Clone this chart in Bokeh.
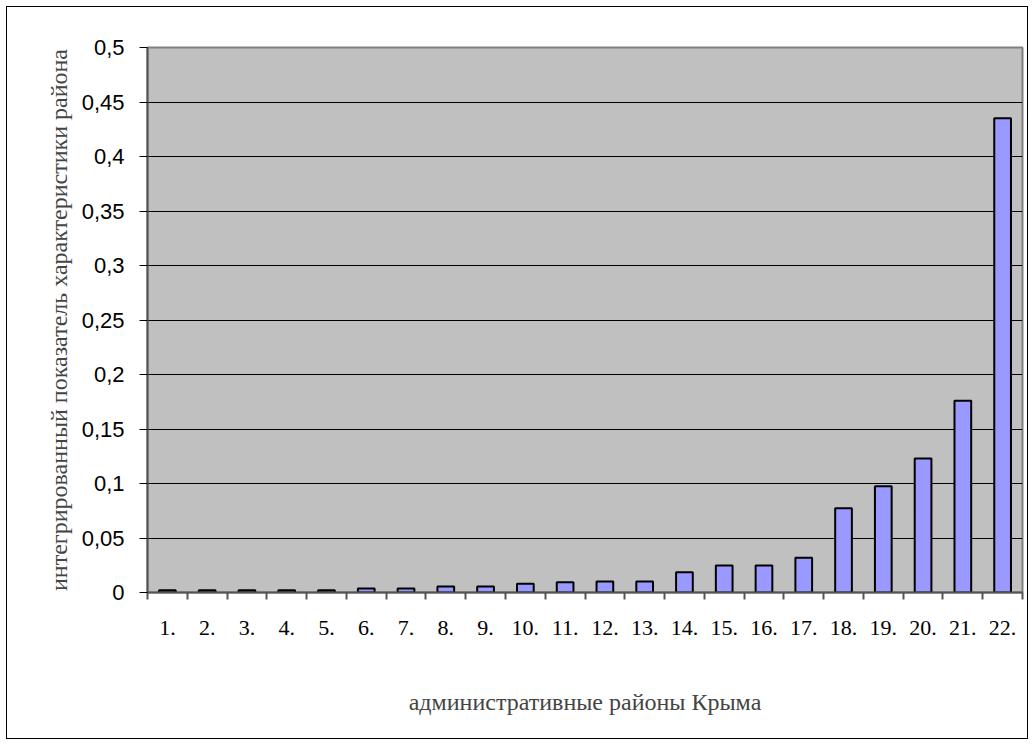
from bokeh.plotting import figure
from bokeh.models import FixedTicker, Range1d
from bokeh.embed import file_html
from bokeh.resources import INLINE

districts = [f"{i}." for i in range(1, 23)]
values = [0.002, 0.002, 0.002, 0.002, 0.002, 0.0037, 0.0037, 0.0055, 0.0055, 0.008,
          0.0095, 0.0100, 0.0100, 0.0186, 0.0248, 0.0248, 0.0318, 0.0773, 0.0975, 0.123,
          0.176, 0.435]
y_ticks = [0, 0.05, 0.1, 0.15, 0.2, 0.25, 0.3, 0.35, 0.4, 0.45, 0.5]
y_labels = ["0", "0,05", "0,1", "0,15", "0,2", "0,25", "0,3", "0,35", "0,4", "0,45", "0,5"]
x_title = "административные районы Крыма"
y_title = "интегрированный показатель характеристики района"

xs = list(range(1, len(districts) + 1))

p = figure(width=1022, height=733, output_backend="svg", toolbar_location=None,
           x_range=Range1d(0.5, len(districts) + 0.5), y_range=Range1d(0, 0.5),
           min_border_left=140, min_border_top=40, min_border_right=7, min_border_bottom=148)
p.styles = {"margin-left": "6px", "margin-top": "6px", "border": "1px solid black"}
p.outline_line_color = "#808080"
p.outline_line_width = 2
p.border_fill_color = "white"
p.background_fill_color = "#C0C0C0"

p.vbar(x=xs, top=values, width=0.42, fill_color="#9999FF", line_color="black", line_width=2)

# x axis
p.xaxis.ticker = FixedTicker(ticks=xs, minor_ticks=[x + 0.5 for x in range(0, len(districts) + 1)])
p.xaxis.major_label_overrides = {x: d for x, d in zip(xs, districts)}
p.xaxis.major_tick_line_color = None
p.xaxis.major_tick_in = 0
p.xaxis.major_tick_out = 0
p.xaxis.minor_tick_line_color = "#555555"
p.xaxis.minor_tick_line_width = 2
p.xaxis.minor_tick_in = 0
p.xaxis.minor_tick_out = 7
p.xaxis.axis_line_color = "#555555"
p.xaxis.axis_line_width = 2
p.xaxis.major_label_text_font = "Liberation Serif"
p.xaxis.major_label_text_font_size = "22px"
p.xaxis.major_label_text_color = "black"
p.xaxis.major_label_standoff = 21
p.xaxis.axis_label = x_title
p.xaxis.axis_label_text_font = "Liberation Serif"
p.xaxis.axis_label_text_font_size = "24px"
p.xaxis.axis_label_text_font_style = "normal"
p.xaxis.axis_label_standoff = 51

# y axis
p.yaxis.ticker = FixedTicker(ticks=y_ticks)
p.yaxis.major_label_overrides = {t: l for t, l in zip(y_ticks, y_labels)}
p.yaxis.major_tick_line_color = "black"
p.yaxis.major_tick_in = 0
p.yaxis.major_tick_out = 8
p.yaxis.minor_tick_line_color = None
p.yaxis.axis_line_color = "#555555"
p.yaxis.axis_line_width = 2
p.yaxis.major_label_text_font = "Liberation Sans"
p.yaxis.major_label_text_font_size = "22px"
p.yaxis.major_label_text_color = "black"
p.yaxis.major_label_standoff = 15
p.yaxis.axis_label = y_title
p.yaxis.axis_label_text_font = "Liberation Serif"
p.yaxis.axis_label_text_font_size = "24px"
p.yaxis.axis_label_text_font_style = "normal"
p.yaxis.axis_label_standoff = 7

p.xgrid.grid_line_color = None
p.ygrid.grid_line_color = "black"
p.ygrid.grid_line_width = 1
p.ygrid.ticker = FixedTicker(ticks=y_ticks)

open("out.html", "w").write(file_html(p, INLINE))
